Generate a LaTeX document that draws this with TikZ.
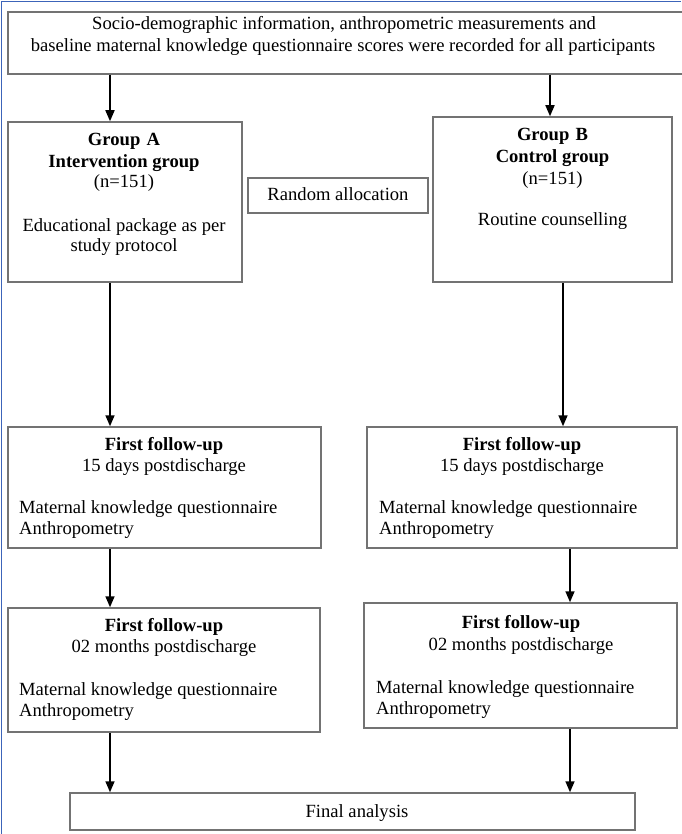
\documentclass[tikz,border=0pt]{standalone}
\usepackage{fontspec}
\setmainfont{Liberation Serif}
\usetikzlibrary{arrows.meta}
\definecolor{framebl}{RGB}{60,100,185}
\begin{document}
\begin{tikzpicture}[x=1pt,y=-1pt,
  every node/.style={font=\fontsize{18.6}{21}\selectfont},
  box/.style={draw=black!55, line width=1.5pt, inner sep=0pt, fill=none},
  txt/.style={inner sep=0pt, anchor=mid, yshift=-3pt},
  ltxt/.style={inner sep=0pt, anchor=mid west, yshift=-3pt},
  arr/.style={draw=black, line width=1.6pt, -{Triangle[length=11pt,width=9pt]}}]
\useasboundingbox (0,0) rectangle (681,834);
\fill[white] (0,0) rectangle (681,834);
\draw[framebl, line width=1.5pt] (1.5,834) -- (1.5,1.5) -- (681,1.5);

% boxes
\node[box, minimum width=690pt, minimum height=62pt] (top) at (353,43) {};
\node[box, minimum width=234pt, minimum height=160pt] (ga) at (125,202) {};
\node[box, minimum width=180pt, minimum height=35pt] (rand) at (338,195.5) {};
\node[box, minimum width=239pt, minimum height=165pt] (gb) at (552.5,199.5) {};
\node[box, minimum width=313pt, minimum height=121pt] (fa1) at (164.5,487.5) {};
\node[box, minimum width=310pt, minimum height=121pt] (fb1) at (522,487.5) {};
\node[box, minimum width=312pt, minimum height=124pt] (fa2) at (164,670) {};
\node[box, minimum width=313pt, minimum height=125pt] (fb2) at (520.5,665.5) {};
\node[box, minimum width=565pt, minimum height=37pt] (fin) at (352.5,811.5) {};

% texts
\node[txt] (t1) at (344,24) {Socio-demographic information, anthropometric measurements and};
\node[txt] (t2) at (343,46) {baseline maternal knowledge questionnaire scores were recorded for all participants};

\node[txt] (ga1) at (124,140) {\textbf{Group\,\,A}};
\node[txt] (ga2) at (124,162) {\textbf{Intervention group}};
\node[txt] (ga3) at (124,182) {(n=151)};
\node[txt] (ga4) at (124,226) {Educational package as per};
\node[txt] (ga5) at (124,246) {study protocol};

\node[txt] (r1) at (338,195) {Random allocation};

\node[txt] (gb1) at (552.5,135) {\textbf{Group\,\,B}};
\node[txt] (gb2) at (552.5,157) {\textbf{Control group}};
\node[txt] (gb3) at (552.5,179) {(n=151)};
\node[txt] (gb4) at (552.5,220) {Routine counselling};

\node[txt] (fa1a) at (164,445) {\textbf{First follow-up}};
\node[txt] (fa1b) at (164,466) {15 days postdischarge};
\node[ltxt] (fa1c) at (19,508) {Maternal knowledge questionnaire};
\node[ltxt] (fa1d) at (19,529) {Anthropometry};

\node[txt] (fb1a) at (522,445) {\textbf{First follow-up}};
\node[txt] (fb1b) at (522,466) {15 days postdischarge};
\node[ltxt] (fb1c) at (379,508) {Maternal knowledge questionnaire};
\node[ltxt] (fb1d) at (379,529) {Anthropometry};

\node[txt] (fa2a) at (164,626) {\textbf{First follow-up}};
\node[txt] (fa2b) at (164,647) {02 months postdischarge};
\node[ltxt] (fa2c) at (19,690) {Maternal knowledge questionnaire};
\node[ltxt] (fa2d) at (19,711) {Anthropometry};

\node[txt] (fb2a) at (521,623) {\textbf{First follow-up}};
\node[txt] (fb2b) at (521,645) {02 months postdischarge};
\node[ltxt] (fb2c) at (376,688) {Maternal knowledge questionnaire};
\node[ltxt] (fb2d) at (376,709) {Anthropometry};

\node[txt] (fn) at (357,812) {Final analysis};

% arrow columns
\coordinate (xa) at (110,0);
\coordinate (xb) at (550,0);
\coordinate (xc) at (563,0);
\coordinate (xd) at (570,0);

\draw[arr] (top.south -| xa) -- (ga.north -| xa);
\draw[arr] (top.south -| xb) -- (gb.north -| xb);
\draw[arr] (ga.south -| xa) -- (fa1.north -| xa);
\draw[arr] (gb.south -| xc) -- (fb1.north -| xc);
\draw[arr] (fa1.south -| xa) -- (fa2.north -| xa);
\draw[arr] (fb1.south -| xd) -- (fb2.north -| xd);
\draw[arr] (fa2.south -| xa) -- (fin.north -| xa);
\draw[arr] (fb2.south -| xd) -- (fin.north -| xd);
\end{tikzpicture}
\end{document}
